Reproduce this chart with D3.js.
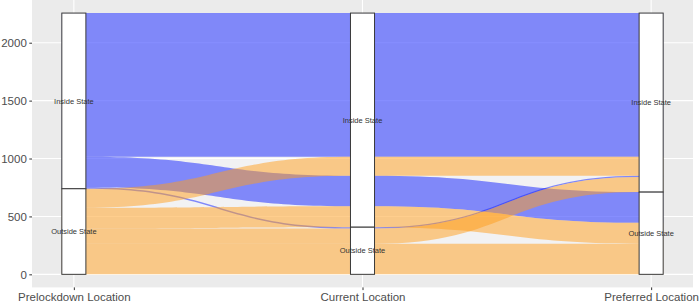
<!DOCTYPE html>
<html>
<head>
<meta charset="utf-8">
<script src="https://cdn.jsdelivr.net/npm/d3@7"></script>
<style>
  html, body { margin: 0; padding: 0; background: #ffffff; }
  svg { display: block; font-family: "Liberation Sans", Arial, Helvetica, sans-serif; }
</style>
</head>
<body>
<svg id="chart" width="700" height="308"></svg>
<script>
// ---- data ----
const axes = ["Prelockdown Location", "Current Location", "Preferred Location"];
const strata = ["Inside State", "Outside State"];
// one entry per alluvium (group of respondents following the same path)
const prelockdown = ["Inside State", "Inside State", "Inside State", "Outside State", "Outside State", "Outside State", "Outside State"];
const current     = ["Inside State", "Inside State", "Outside State", "Inside State", "Inside State", "Outside State", "Outside State"];
const preferred   = ["Inside State", "Outside State", "Inside State", "Inside State", "Outside State", "Inside State", "Outside State"];
const counts      = [1240, 265, 12, 164, 180, 130, 265];
const yTicks = [0, 500, 1000, 1500, 2000];
const fillColors = {"Inside State": "#0E1EFF", "Outside State": "#FF9E1C"};

// ---- layout ----
const svg = d3.select("#chart");
const panel = {left: 32, right: 693, top: 0, bottom: 287.4};
const total = d3.sum(counts);
const expand = total * 0.05;

const x = d3.scalePoint().domain(axes).range([panel.left, panel.right]).padding(0.145);
const y = d3.scaleLinear().domain([-expand, total + expand]).range([panel.bottom, panel.top]);
const sw = x.step() / 12; // stratum width

const paths = [prelockdown, current, preferred];
const guidance = [[1, 2], [2, 0], [1, 0]];
const idx = counts.map((_, i) => i);

// lode positions [axis][alluvium] -> {top, bottom} in data units
const lodes = axes.map(() => new Array(counts.length));
const strataBoxes = [];
axes.forEach((ax, a) => {
  let cursor = total;
  strata.forEach(s => {
    const members = idx.filter(i => paths[a][i] === s);
    members.sort((p, q) => {
      for (const g of guidance[a]) {
        const d = strata.indexOf(paths[g][p]) - strata.indexOf(paths[g][q]);
        if (d !== 0) return d;
      }
      return p - q;
    });
    const sTop = cursor;
    members.forEach(i => {
      lodes[a][i] = {top: cursor, bottom: cursor - counts[i]};
      cursor -= counts[i];
    });
    strataBoxes.push({axis: ax, a, label: s, top: sTop, bottom: cursor});
  });
});

// ---- panel ----
svg.append("rect")
  .attr("x", panel.left).attr("y", panel.top)
  .attr("width", panel.right - panel.left).attr("height", panel.bottom - panel.top)
  .attr("fill", "#EBEBEB");

// lighter field behind the flows
svg.append("rect")
  .attr("x", x(axes[0])).attr("y", y(total))
  .attr("width", x(axes[axes.length - 1]) - x(axes[0]))
  .attr("height", y(0) - y(total))
  .attr("fill", "#F2F2F3");

// grid
svg.append("g").selectAll("line").data(yTicks).join("line")
  .attr("x1", panel.left).attr("x2", panel.right)
  .attr("y1", d => y(d)).attr("y2", d => y(d))
  .attr("stroke", "#ffffff").attr("stroke-width", 1.1);
svg.append("g").selectAll("line").data(axes).join("line")
  .attr("x1", d => x(d)).attr("x2", d => x(d))
  .attr("y1", panel.top).attr("y2", panel.bottom)
  .attr("stroke", "#ffffff").attr("stroke-width", 1.1);

// ---- alluvia ----
function flowPath(i) {
  let d = "";
  for (let a = 0; a < axes.length; a++) {
    const xl = x(axes[a]) - sw / 2, xr = x(axes[a]) + sw / 2;
    const yt = y(lodes[a][i].top);
    if (a === 0) d += `M${xl},${yt}`;
    else {
      const xp = x(axes[a - 1]) + sw / 2;
      const ypt = y(lodes[a - 1][i].top);
      const xm = (xp + xl) / 2;
      d += `C${xm},${ypt} ${xm},${yt} ${xl},${yt}`;
    }
    d += `L${xr},${yt}`;
  }
  for (let a = axes.length - 1; a >= 0; a--) {
    const xl = x(axes[a]) - sw / 2, xr = x(axes[a]) + sw / 2;
    const yb = y(lodes[a][i].bottom);
    if (a === axes.length - 1) d += `L${xr},${yb}`;
    else {
      const xn = x(axes[a + 1]) - sw / 2;
      const ynb = y(lodes[a + 1][i].bottom);
      const xm = (xn + xr) / 2;
      d += `C${xm},${ynb} ${xm},${yb} ${xr},${yb}`;
    }
    d += `L${xl},${yb}`;
  }
  return d + "Z";
}

svg.append("g").selectAll("path").data(idx).join("path")
  .attr("d", i => flowPath(i))
  .attr("fill", i => fillColors[prelockdown[i]])
  .attr("fill-opacity", 0.5)
  .attr("stroke", "none");

// ---- strata ----
const sg = svg.append("g");
sg.selectAll("rect").data(strataBoxes).join("rect")
  .attr("x", d => x(d.axis) - sw / 2)
  .attr("y", d => y(d.top))
  .attr("width", sw)
  .attr("height", d => y(d.bottom) - y(d.top))
  .attr("fill", "#ffffff")
  .attr("stroke", "#3a3a3a")
  .attr("stroke-width", 1);
sg.selectAll("text").data(strataBoxes).join("text")
  .attr("x", d => x(d.axis))
  .attr("y", d => y((d.top + d.bottom) / 2))
  .attr("dy", "0.35em")
  .attr("text-anchor", "middle")
  .attr("font-size", 7.5)
  .attr("fill", "#333333")
  .text(d => d.label);

// ---- axes ----
const yAxis = svg.append("g")
  .attr("transform", `translate(${panel.left},0)`)
  .call(d3.axisLeft(y).tickValues(yTicks).tickSize(2.7).tickPadding(2.5).tickFormat(d3.format("d")));
yAxis.select(".domain").remove();
yAxis.selectAll(".tick line").attr("stroke", "#333333");
yAxis.selectAll(".tick text").attr("fill", "#4D4D4D").attr("font-size", 11.5)
  .attr("font-family", "'Liberation Sans', Arial, sans-serif");

const xAxis = svg.append("g")
  .attr("transform", `translate(0,${panel.bottom})`)
  .call(d3.axisBottom(x).tickSize(2.7).tickPadding(2.5));
xAxis.select(".domain").remove();
xAxis.selectAll(".tick line").attr("stroke", "#333333");
xAxis.selectAll(".tick text").attr("fill", "#4D4D4D").attr("font-size", 11.5)
  .attr("font-family", "'Liberation Sans', Arial, sans-serif");
</script>
</body>
</html>
